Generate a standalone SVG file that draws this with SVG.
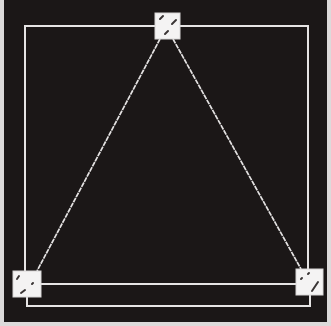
<svg xmlns="http://www.w3.org/2000/svg" width="331" height="326" viewBox="0 0 331 326">
<style>
.ln{stroke:#e6e4e4;stroke-width:2;fill:none}
.dg{stroke:#e4e2e2;stroke-width:1.7;fill:none;stroke-dasharray:5 0.8}
.nd{fill:#f4f3f3;stroke:#d8d6d6;stroke-width:1}
.mk{stroke:#3a3535;stroke-width:2;stroke-linecap:round}
</style>
<rect x="0" y="0" width="331" height="326" fill="#dcdada"/>
<rect x="4" y="0" width="323" height="322" fill="#1b1717"/>
<g id="connectors">
<polyline class="ln" points="25,271 25,26 308,26 308,269"/>
<line class="ln" x1="41" y1="284" x2="296" y2="284"/>
<polyline class="ln" points="27,297 27,306 310,306 310,295"/>
<line class="dg" x1="160" y1="39" x2="37" y2="271"/>
<line class="dg" x1="173" y1="39" x2="301" y2="269"/>
</g>
<g id="node-top">
<rect class="nd" x="155" y="13" width="25" height="26"/>
<line class="mk" x1="160" y1="19" x2="163" y2="16"/>
<line class="mk" x1="172" y1="24" x2="176" y2="20"/>
<line class="mk" x1="165" y1="34" x2="168" y2="31"/>
</g>
<g id="node-left">
<rect class="nd" x="13" y="271" width="28" height="26"/>
<line class="mk" x1="17" y1="279" x2="19" y2="276"/>
<line class="mk" x1="32" y1="284" x2="33" y2="283"/>
<line class="mk" x1="21" y1="293" x2="25" y2="290"/>
</g>
<g id="node-right">
<rect class="nd" x="296" y="269" width="27" height="26"/>
<line class="mk" x1="301" y1="279" x2="302" y2="278"/>
<line class="mk" x1="308" y1="274" x2="309" y2="273"/>
<line class="mk" x1="312" y1="291" x2="318" y2="282"/>
</g>
</svg>
